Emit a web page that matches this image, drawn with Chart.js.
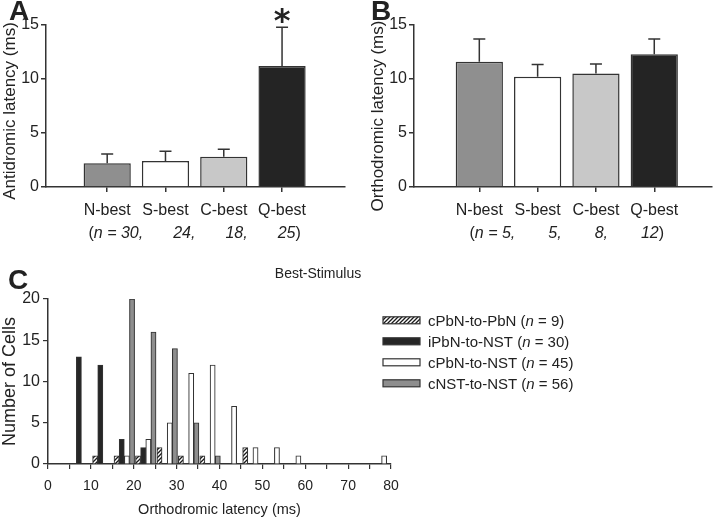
<!DOCTYPE html>
<html>
<head>
<meta charset="utf-8">
<script src="https://cdn.jsdelivr.net/npm/chart.js@4.4.1/dist/chart.umd.min.js"></script>
<style>
html, body { margin:0; padding:0; background:#fff; }
#wrap { position:relative; width:714px; height:521px; overflow:hidden; background:#fff; }
canvas { position:absolute; }
</style>
</head>
<body>
<div id="wrap">
<canvas id="cA" width="360" height="250" style="left:0;top:0"></canvas>
<canvas id="cB" width="354" height="250" style="left:360px;top:0"></canvas>
<canvas id="cC" width="714" height="266" style="left:0;top:255px"></canvas>
</div>
<script>
// ---------- data ----------
const categories = ['N-best', 'S-best', 'C-best', 'Q-best'];
const categoryColors = ['#8f8f8f', '#ffffff', '#c8c8c8', '#242424'];
const antiMeans = [2.2, 2.4, 2.8, 11.2];
const antiErrTop = [3.05, 3.3, 3.5, 14.8];
const antiN = [30, 24, 18, 25];
const antiSignificant = [false, false, false, true];
const orthoMeans = [11.6, 10.2, 10.5, 12.3];
const orthoErrTop = [13.7, 11.35, 11.4, 13.7];
const orthoN = [5, 5, 8, 12];
const orthoSignificant = [false, false, false, false];
const yTicksAB = [0, 5, 10, 15];

const binStarts = [5, 10, 15, 20, 25, 30, 35, 40, 45, 50, 55, 60, 65, 70, 75];
const seriesNames = ['cPbN-to-PbN', 'iPbN-to-NST', 'cPbN-to-NST', 'cNST-to-NST'];
const seriesN = [9, 30, 45, 56];
const countsCPbNtoPbN = [0, 1, 1, 1, 2, 1, 1, 0, 2, 0, 0, 0, 0, 0, 0];
const countsIPbNtoNST = [13, 12, 3, 2, 0, 0, 0, 0, 0, 0, 0, 0, 0, 0, 0];
const countsCPbNtoNST = [0, 0, 1, 3, 5, 11, 12, 7, 2, 2, 1, 0, 0, 0, 1];
const countsCNSTtoNST = [0, 0, 20, 16, 14, 5, 1, 0, 0, 0, 0, 0, 0, 0, 0];
const xTicksC = [0, 5, 10, 15, 20, 25, 30, 35, 40, 45, 50, 55, 60, 65, 70, 75, 80];
const yTicksC = [0, 5, 10, 15, 20];

// ---------- style ----------
const FONT = '"Liberation Sans", Arial, Helvetica, sans-serif';
const AXIS = '#333333';
const TEXT = '#222222';
Chart.defaults.font.family = FONT;
Chart.defaults.color = TEXT;
Chart.defaults.animation = false;

function segWidth(ctx, segs, size) {
  let w = 0;
  segs.forEach(s => { ctx.font = (s.it ? 'italic ' : '') + size + 'px ' + FONT; w += ctx.measureText(s.t).width; });
  return w;
}
function drawSegs(ctx, segs, x, y, size) {
  segs.forEach(s => {
    ctx.font = (s.it ? 'italic ' : '') + size + 'px ' + FONT;
    ctx.fillText(s.t, x, y);
    x += ctx.measureText(s.t).width;
  });
}

function makePanelPlugin(means, errTop, ns, sig, letter, letterX, letterY, gap, yTitle, titleX, titleY) {
  return {
    id: 'panel' + letter,
    afterDraw(chart) {
      const ctx = chart.ctx;
      const x = chart.scales.x, y = chart.scales.y;
      ctx.save();
      ctx.strokeStyle = AXIS;
      ctx.lineWidth = 1.5;
      errTop.forEach((e, i) => {
        const px = x.getPixelForValue(i + 1);
        const p0 = y.getPixelForValue(means[i]);
        const p1 = y.getPixelForValue(e);
        ctx.beginPath();
        ctx.moveTo(px, p0); ctx.lineTo(px, p1);
        ctx.moveTo(px - 6, p1); ctx.lineTo(px + 6, p1);
        ctx.stroke();
        if (sig[i]) {
          ctx.fillStyle = TEXT;
          ctx.font = 'bold 32px "DejaVu Sans", sans-serif';
          ctx.textAlign = 'center';
          ctx.textBaseline = 'alphabetic';
          ctx.fillText('*', px, p1 + 4);
        }
      });
      // n line
      ctx.fillStyle = TEXT;
      ctx.textAlign = 'left';
      ctx.textBaseline = 'alphabetic';
      const groups = ns.map((n, i) => {
        if (i === 0) return [{t: '(', it: false}, {t: 'n = ' + n + ',', it: true}];
        if (i === ns.length - 1) return [{t: String(n), it: true}, {t: ')', it: false}];
        return [{t: n + ',', it: true}];
      });
      const widths = groups.map(g => segWidth(ctx, g, 16));
      const total = widths.reduce((a, b) => a + b, 0) + gap * (groups.length - 1);
      let sx = x.getPixelForValue((1 + ns.length) / 2) - total / 2;
      const baseY = chart.chartArea.bottom + 51;
      groups.forEach((g, i) => { drawSegs(ctx, g, sx, baseY, 16); sx += widths[i] + gap; });
      // y-axis title
      ctx.save();
      ctx.translate(titleX, titleY);
      ctx.rotate(-Math.PI / 2);
      ctx.textAlign = 'center';
      ctx.textBaseline = 'middle';
      ctx.font = '17px ' + FONT;
      ctx.fillText(yTitle, 0, 0);
      ctx.restore();
      // panel letter
      ctx.font = 'bold 28px ' + FONT;
      ctx.fillText(letter, letterX, letterY);
      ctx.restore();
    }
  };
}

function meanChart(id, means, errTop, ns, sig, yTitle, titleX, titleY, letter, letterX, letterY, padLeft, padRight, xMin, xMax, gap) {
  return new Chart(document.getElementById(id), {
    type: 'bar',
    data: {
      datasets: [{
        data: means.map((m, i) => ({x: i + 1, y: m})),
        backgroundColor: categoryColors,
        borderColor: AXIS,
        borderWidth: 1.5,
        categoryPercentage: 0.81,
        barPercentage: 1
      }]
    },
    options: {
      responsive: false,
      animation: false,
      layout: {padding: {top: 25, right: padRight, bottom: 0, left: padLeft}},
      plugins: {legend: {display: false}, tooltip: {enabled: false}},
      scales: {
        x: {
          type: 'linear', min: xMin, max: xMax, offset: false,
          afterBuildTicks: s => { s.ticks = categories.map((c, i) => ({value: i + 1})); },
          afterFit: s => { s.height = 63; },
          ticks: {callback: (v, i) => categories[i], font: {size: 16}, color: TEXT, padding: 9, maxRotation: 0, autoSkip: false},
          grid: {display: true, offset: false, drawOnChartArea: false, drawTicks: true, tickLength: 5, color: AXIS, lineWidth: 1.5},
          border: {display: true, color: AXIS, width: 1.5}
        },
        y: {
          min: 0, max: 15,
          afterBuildTicks: s => { s.ticks = yTicksAB.map(v => ({value: v})); },
          afterFit: s => { s.width = 46; },
          ticks: {font: {size: 16}, color: TEXT, padding: 2},
          grid: {display: true, drawOnChartArea: false, drawTicks: true, tickLength: 5, color: AXIS, lineWidth: 1.5},
          border: {display: true, color: AXIS, width: 1.5},
          title: {display: false}
        }
      }
    },
    plugins: [makePanelPlugin(means, errTop, ns, sig, letter, letterX, letterY, gap, yTitle, titleX, titleY)]
  });
}

meanChart('cA', antiMeans, antiErrTop, antiN, antiSignificant, 'Antidromic latency (ms)', 10, 111, 'A', 9, 20, 0, 15, -0.05, 5.08, 30);
meanChart('cB', orthoMeans, orthoErrTop, orthoN, orthoSignificant, 'Orthodromic latency (ms)', 18, 116, 'B', 11, 20, 8, 2, -0.12, 4.99, 33);

// ---------- panel C ----------
const canvasC = document.getElementById('cC');
function makeHatch(ctx) {
  const c = document.createElement('canvas');
  c.width = 4; c.height = 4;
  const g = c.getContext('2d');
  g.fillStyle = '#ffffff'; g.fillRect(0, 0, 4, 4);
  g.strokeStyle = '#1a1a1a'; g.lineWidth = 1.3;
  g.beginPath();
  g.moveTo(-1, 5); g.lineTo(5, -1);
  g.moveTo(-1, 1); g.lineTo(1, -1);
  g.moveTo(3, 5); g.lineTo(5, 3);
  g.stroke();
  return ctx.createPattern(c, 'repeat');
}
const hatch = makeHatch(canvasC.getContext('2d'));
const seriesCounts = [countsCPbNtoPbN, countsIPbNtoNST, countsCPbNtoNST, countsCNSTtoNST];
const seriesFills = [hatch, '#262626', '#ffffff', '#8e8e8e'];
const BAR_STEP = 1.2, BAR_START = 1.0;

const panelCPlugin = {
  id: 'panelC',
  afterDraw(chart) {
    const ctx = chart.ctx;
    ctx.save();
    ctx.fillStyle = TEXT;
    ctx.textAlign = 'center';
    ctx.textBaseline = 'alphabetic';
    ctx.font = '14px ' + FONT;
    ctx.fillText('Best-Stimulus', 318, 23);
    ctx.textAlign = 'left';
    ctx.font = 'bold 28px ' + FONT;
    ctx.fillText('C', 8, 34);
    chart.data.datasets.forEach((ds, k) => {
      const cy = 65.3 + 21 * k;
      ctx.fillStyle = ds.backgroundColor;
      ctx.fillRect(383, cy - 3.5, 37, 7);
      ctx.strokeStyle = AXIS; ctx.lineWidth = 1.2;
      ctx.strokeRect(383, cy - 3.5, 37, 7);
      ctx.fillStyle = TEXT;
      drawSegs(ctx, [{t: seriesNames[k] + ' (', it: false}, {t: 'n', it: true}, {t: ' = ' + seriesN[k] + ')', it: false}], 428, cy + 5.5, 15);
    });
    ctx.restore();
  }
};

new Chart(canvasC, {
  type: 'bar',
  data: {
    datasets: seriesCounts.map((counts, k) => ({
      label: seriesNames[k],
      data: binStarts.map((b, j) => ({x: b + BAR_START + BAR_STEP * k, y: counts[j]})).filter(p => p.y > 0),
      backgroundColor: seriesFills[k],
      borderColor: AXIS,
      borderWidth: 1.1,
      grouped: false,
      barPercentage: 1,
      categoryPercentage: 1
    }))
  },
  options: {
    responsive: false,
    animation: false,
    layout: {padding: {top: 44, right: 323, bottom: 0, left: 0}},
    plugins: {legend: {display: false}, tooltip: {enabled: false}},
    scales: {
      x: {
        type: 'linear', min: 0, max: 80, offset: false,
        afterBuildTicks: s => { s.ticks = xTicksC.map(v => ({value: v})); },
        afterFit: s => { s.height = 57; },
        ticks: {callback: v => (v % 10 === 0 ? String(v) : ''), font: {size: 14}, color: TEXT, padding: 9, maxRotation: 0, autoSkip: false},
        grid: {display: true, offset: false, drawOnChartArea: false, drawTicks: true, tickLength: 5, color: AXIS, lineWidth: 1.2},
        border: {display: true, color: AXIS, width: 1.5},
        title: {display: true, text: 'Orthodromic latency (ms)', font: {size: 14.5}, color: TEXT, padding: {top: 0, bottom: 2}}
      },
      y: {
        min: 0, max: 20,
        afterBuildTicks: s => { s.ticks = yTicksC.map(v => ({value: v})); },
        afterFit: s => { s.width = 48; },
        ticks: {font: {size: 16}, color: TEXT, padding: 3},
        grid: {display: true, drawOnChartArea: false, drawTicks: true, tickLength: 5, color: AXIS, lineWidth: 1.2},
        border: {display: true, color: AXIS, width: 1.5},
        title: {display: true, text: 'Number of Cells', font: {size: 18, lineHeight: 1.1}, color: TEXT, padding: 0}
      }
    }
  },
  plugins: [panelCPlugin]
});
</script>
</body>
</html>
